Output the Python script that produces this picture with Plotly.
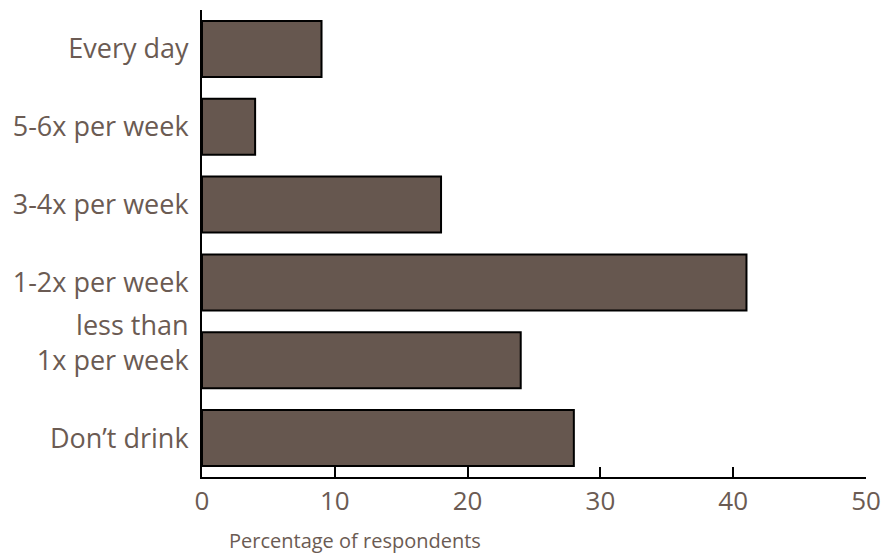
import plotly.graph_objects as go

categories = ["Don’t drink", "less than<br>1x per week<br> ", "1-2x per week",
              "3-4x per week", "5-6x per week", "Every day"]
percent = [28, 24, 41, 18, 4, 9]
x_ticks = [0, 10, 20, 30, 40, 50]

text_col = "#6b5b53"

fig = go.Figure(go.Bar(
    x=percent,
    y=categories,
    orientation="h",
    width=0.72,
    marker=dict(color="#66574f", line=dict(color="black", width=2)),
))

fig.update_layout(
    width=884, height=558,
    margin=dict(l=202, r=18, t=10, b=81),
    plot_bgcolor="white", paper_bgcolor="white",
    font=dict(family="Open Sans", color=text_col, size=26),
    showlegend=False,
)
fig.update_xaxes(
    range=[0, 50], tickvals=x_ticks, automargin=False,
    showline=True, linecolor="black", linewidth=2,
    ticks="inside", ticklen=10, tickwidth=2, tickcolor="black",
    showgrid=False, zeroline=False,
    tickfont=dict(size=26), ticklabelstandoff=0,
)
fig.update_yaxes(
    range=[-0.5, 5.5], automargin=False,
    showline=True, linecolor="black", linewidth=2,
    showgrid=False, ticks="", ticklabelstandoff=6,
    tickfont=dict(size=27),
)
fig.add_annotation(
    text="Percentage of respondents", xref="paper", yref="paper",
    x=0.23, y=-0.137, xanchor="center", yanchor="middle",
    showarrow=False, font=dict(size=20, color=text_col),
)

# drop the browser's default body margin so the figure sits at the page corner
fig.write_html("out.html", config={"displayModeBar": False},
               post_script="document.body.style.margin='0';")
